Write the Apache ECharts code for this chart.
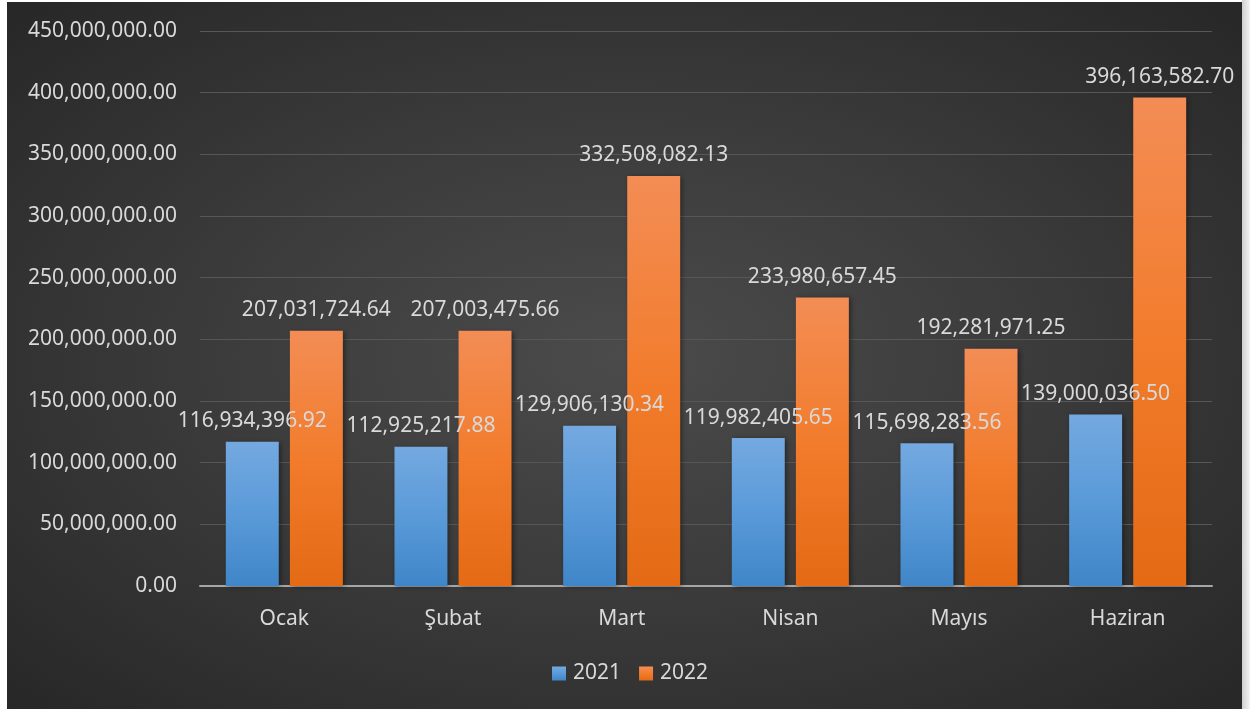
<!DOCTYPE html>
<html>
<head>
<meta charset="utf-8">
<script src="https://cdn.jsdelivr.net/npm/echarts@6/dist/echarts.min.js"></script>
<style>
html,body{margin:0;padding:0;width:1250px;height:709px;background:#ffffff;overflow:hidden;}
#frame{position:absolute;left:1242px;top:0;width:8px;height:709px;background:linear-gradient(to right,#cfcfcf,#f4f4f4);}
#chart{position:absolute;left:7px;top:2px;width:1235px;height:707px;
background:radial-gradient(ellipse at 50% 50%, #4b4b4b 0%, #3c3c3c 45%, #272727 100%);}
</style>
</head>
<body>
<div id="frame"></div>
<div id="chart"></div>
<script>
const categories = ['Ocak', 'Şubat', 'Mart', 'Nisan', 'Mayıs', 'Haziran'];
const seriesNames = ['2021', '2022'];
const values2021 = [116934396.92, 112925217.88, 129906130.34, 119982405.65, 115698283.56, 139000036.50];
const values2022 = [207031724.64, 207003475.66, 332508082.13, 233980657.45, 192281971.25, 396163582.70];
const yMin = 0, yMax = 450000000, yInterval = 50000000;

function fmt(v) {
  const fixed = Number(v).toFixed(2);
  const parts = fixed.split('.');
  parts[0] = parts[0].replace(/\B(?=(\d{3})+(?!\d))/g, ',');
  return parts.join('.');
}

const textColor = '#d9d9d9';
const font = "'Noto Sans', 'Open Sans', sans-serif";

const blueGrad = new echarts.graphic.LinearGradient(0, 0, 0, 1, [
  {offset: 0, color: '#74a9e0'}, {offset: 0.5, color: '#5a9ad9'}, {offset: 1, color: '#3f86c8'}
]);
const orangeGrad = new echarts.graphic.LinearGradient(0, 0, 0, 1, [
  {offset: 0, color: '#f38d55'}, {offset: 0.5, color: '#f27c2c'}, {offset: 1, color: '#e46a14'}
]);

const chart = echarts.init(document.getElementById('chart'), null, {renderer: 'canvas'});
chart.setOption({
  backgroundColor: 'transparent',
  animation: false,
  textStyle: {fontFamily: font},
  grid: {left: 193, right: 30, top: 29, bottom: 123, containLabel: false},
  legend: {
    data: seriesNames,
    bottom: 20,
    left: 540,
    icon: 'rect',
    itemWidth: 14,
    itemHeight: 14,
    itemGap: 18,
    textStyle: {color: textColor, fontSize: 21, fontFamily: font, padding: [0, 0, 0, 2]}
  },
  xAxis: {
    type: 'category',
    data: categories,
    axisLine: {lineStyle: {color: '#a6a6a6', width: 2}},
    axisTick: {show: false},
    axisLabel: {color: textColor, fontSize: 21, fontFamily: font, margin: 23}
  },
  yAxis: {
    type: 'value',
    min: yMin, max: yMax, interval: yInterval,
    axisLine: {show: false},
    axisTick: {show: false},
    splitLine: {lineStyle: {color: '#575757', width: 1}},
    axisLabel: {color: textColor, fontSize: 21, fontFamily: font, margin: 23, formatter: v => fmt(v)}
  },
  series: [
    {
      name: seriesNames[0], type: 'bar', data: values2021,
      barWidth: '31.4%', barGap: '21%',
      itemStyle: {color: blueGrad, shadowBlur: 5, shadowColor: 'rgba(0,0,0,0.45)', shadowOffsetX: 2, shadowOffsetY: 1},
      label: {show: true, position: 'top', distance: 10, color: textColor, fontSize: 21, fontFamily: font, formatter: p => fmt(p.value)},
      z: 2
    },
    {
      name: seriesNames[1], type: 'bar', data: values2022,
      barWidth: '31.4%',
      itemStyle: {color: orangeGrad, shadowBlur: 5, shadowColor: 'rgba(0,0,0,0.45)', shadowOffsetX: 2, shadowOffsetY: 1},
      label: {show: true, position: 'top', distance: 10, color: textColor, fontSize: 21, fontFamily: font, formatter: p => fmt(p.value)},
      z: 2
    }
  ]
});
</script>
</body>
</html>
